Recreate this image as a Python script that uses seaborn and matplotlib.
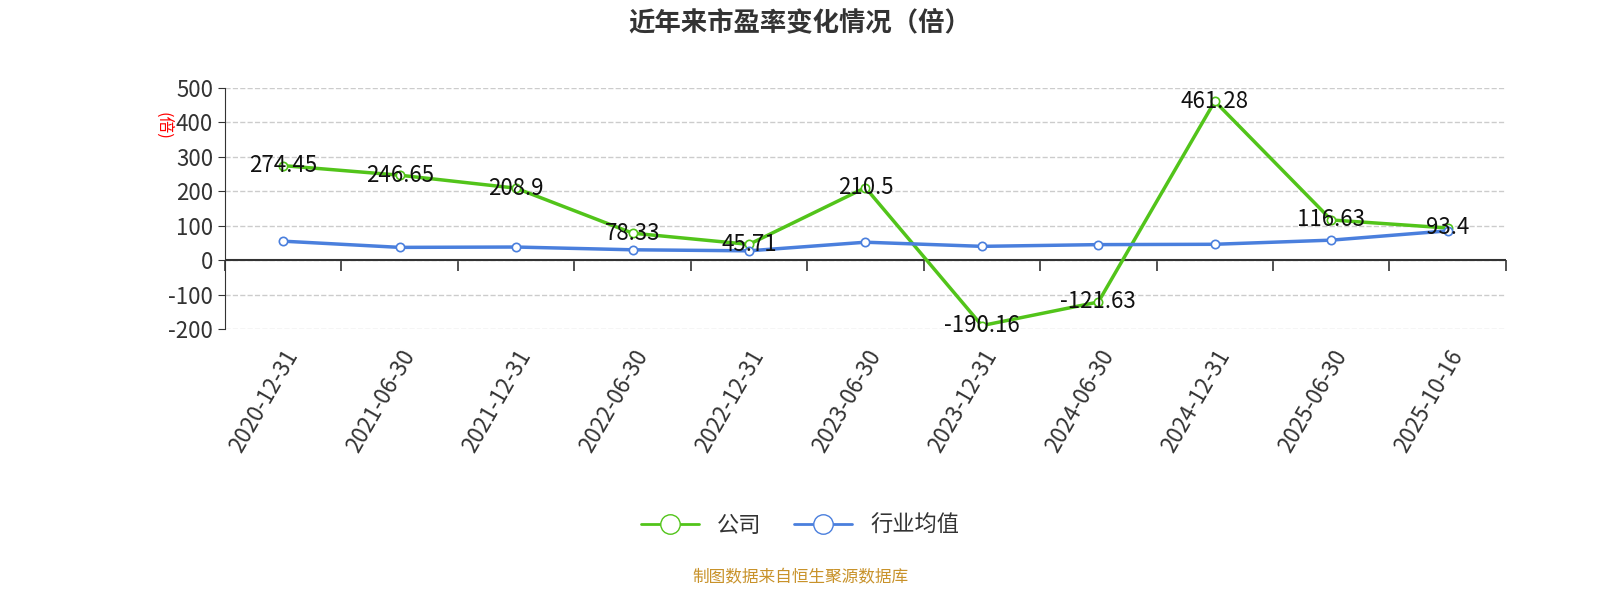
import numpy as np
import pandas as pd
import matplotlib
matplotlib.use("Agg")
import matplotlib.pyplot as plt
import seaborn as sns
from matplotlib.lines import Line2D

dates = ['2020-12-31', '2021-06-30', '2021-12-31', '2022-06-30', '2022-12-31', '2023-06-30',
         '2023-12-31', '2024-06-30', '2024-12-31', '2025-06-30', '2025-10-16']
company = [274.45, 246.65, 208.9, 78.33, 45.71, 210.5, -190.16, -121.63, 461.28, 116.63, 93.4]
industry = [55, 37, 38, 30, 27, 52, 40, 45, 46, 58, 85]

sns.set_style("white")
plt.rcParams['font.family'] = ['Noto Sans CJK SC', 'DejaVu Sans']
plt.rcParams['axes.unicode_minus'] = False

green = '#52c41a'
blue = '#4a7fdd'

df = pd.DataFrame({'x': np.arange(len(dates)), 'company': company, 'industry': industry})

fig = plt.figure(figsize=(16, 6), dpi=100)
ax = fig.add_axes([0.1406, 0.4517, 0.8006, 0.4017])

sns.lineplot(data=df, x='x', y='company', ax=ax, color=green, linewidth=2.5,
             marker='o', markersize=6, markerfacecolor='white', markeredgecolor=green,
             markeredgewidth=1.2, zorder=3)
sns.lineplot(data=df, x='x', y='industry', ax=ax, color=blue, linewidth=2.5,
             marker='o', markersize=6, markerfacecolor='white', markeredgecolor=blue,
             markeredgewidth=1.2, zorder=4)

for i, v in enumerate(company):
    ax.text(i, v, f'{v:g}', ha='center', va='center', fontsize=16, color='#111', zorder=5)

ymin, ymax = -200, 500
ax.set_xlim(-0.5, len(dates) - 0.5)
ax.set_ylim(ymin, ymax)
ax.set_yticks(range(ymin, ymax + 1, 100))
ax.set_xticks(range(len(dates)))
ax.set_xticklabels(dates, rotation=60, ha='right', rotation_mode='anchor', fontsize=16, color='#333')
ax.tick_params(axis='x', length=0, pad=12)
ax.tick_params(axis='y', labelsize=16, labelcolor='#333', length=5, color='#333', left=True)
ax.set_xlabel('')
ax.set_ylabel('')
ax.grid(axis='y', linestyle='--', color='#cccccc', linewidth=1)
for s in ['top', 'right', 'bottom']:
    ax.spines[s].set_visible(False)
ax.spines['left'].set_color('#333')
ax.axhline(0, color='#333', linewidth=1.5, zorder=2)

# category boundary ticks hanging from the zero line
zero_ax = ax.secondary_xaxis((0 - ymin) / (ymax - ymin))
zero_ax.set_xticks(np.arange(-0.5, len(dates), 1))
zero_ax.set_xticklabels([])
zero_ax.tick_params(length=8, direction='out', color='#333', width=1.2)
zero_ax.spines['bottom'].set_visible(False)

fig.text(0.102, 0.79, '(倍)', color='red', fontsize=12, rotation=-90, ha='center', va='center')
fig.text(0.5, 0.962, '近年来市盈率变化情况（倍）', ha='center', va='center', fontsize=19,
         fontweight='bold', color='#333')

handles = [Line2D([0], [0], color=green, lw=2, marker='o', markersize=14, markerfacecolor='white'),
           Line2D([0], [0], color=blue, lw=2, marker='o', markersize=14, markerfacecolor='white')]
fig.legend(handles, ['公司', '行业均值'], loc='center', bbox_to_anchor=(0.5, 0.125), ncol=2,
           frameon=False, fontsize=16, handlelength=2.6, columnspacing=1.5, labelcolor='#333')
fig.text(0.5, 0.037, '制图数据来自恒生聚源数据库', ha='center', va='center', fontsize=12, color='#c8922a')

fig.savefig('out.png')
